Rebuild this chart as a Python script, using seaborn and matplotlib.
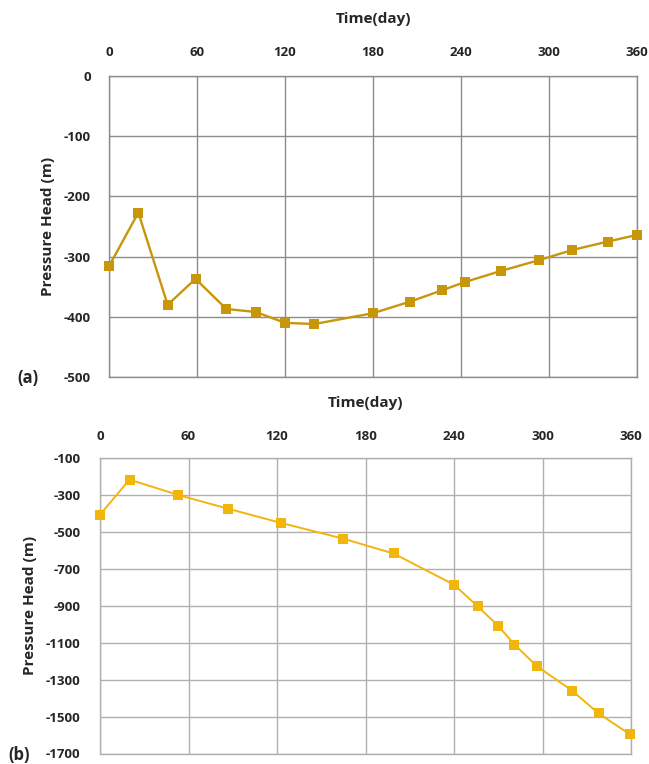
import matplotlib
matplotlib.use("Agg")
import matplotlib.pyplot as plt
import seaborn as sns
import pandas as pd

# Panel (a)
days_a = [0, 20, 40, 59, 80, 100, 120, 140, 180, 205, 227, 243, 267, 293, 316, 340, 360]
head_a = [-316, -227, -380, -337, -387, -392, -410, -412, -394, -375, -356, -342, -324, -306, -289, -275, -264]
# Panel (b)
days_b = [0, 20, 53, 87, 123, 165, 199, 240, 256, 270, 281, 296, 320, 338, 359]
head_b = [-407, -217, -300, -375, -452, -537, -617, -786, -903, -1009, -1110, -1226, -1359, -1483, -1595]

x_ticks = [0, 60, 120, 180, 240, 300, 360]
y_ticks_a = [0, -100, -200, -300, -400, -500]
y_ticks_b = [-100, -300, -500, -700, -900, -1100, -1300, -1500, -1700]

sns.set_style("white")
plt.rcParams['font.family'] = ['Open Sans', 'DejaVu Sans']
plt.rcParams['axes.unicode_minus'] = False

fig = plt.figure(figsize=(6.49, 7.64), dpi=100)
ax_a = fig.add_axes([109/649, 1-377/764, (637-109)/649, (377-76)/764])
ax_b = fig.add_axes([100/649, 1-753.5/764, (631-100)/649, (753.5-458)/764])

df_a = pd.DataFrame({"day": days_a, "head": head_a})
df_b = pd.DataFrame({"day": days_b, "head": head_b})

sns.lineplot(data=df_a, x="day", y="head", ax=ax_a, color="#C8960A", marker="s",
             markersize=6.5, markeredgewidth=0, linewidth=1.7, zorder=3, clip_on=False)
sns.lineplot(data=df_b, x="day", y="head", ax=ax_b, color="#F2B50A", marker="s",
             markersize=6.5, markeredgewidth=0, linewidth=1.4, zorder=3, clip_on=False)

def style(ax, yticks, ylim, gridc, label_pad, xpad, ypad, tpad):
    ax.set_xlim(0, 360)
    ax.set_ylim(*ylim)
    ax.set_xticks(x_ticks)
    ax.set_yticks(yticks)
    ax.xaxis.tick_top()
    ax.xaxis.set_label_position("top")
    ax.set_xlabel("Time(day)", fontsize=11, fontweight="bold", labelpad=tpad)
    ax.set_ylabel("Pressure Head (m)", fontsize=11, fontweight="bold", labelpad=label_pad)
    ax.tick_params(axis="x", length=0, labelsize=9.5, pad=xpad)
    ax.tick_params(axis="y", length=0, labelsize=9.5, pad=ypad)
    for lab in ax.get_xticklabels() + ax.get_yticklabels():
        lab.set_fontweight("bold")
    ax.grid(True, color=gridc, linewidth=1.0)
    for s in ax.spines.values():
        s.set_color(gridc)
        s.set_linewidth(1.0)

style(ax_a, y_ticks_a, (-500, 0), "#8c8c8c", 6, 12, 13, 17)
style(ax_b, y_ticks_b, (-1700, -100), "#b0b0b0", 6, 11, 14, 16)

fig.text(17/649, 1-378/764, "(a)", fontsize=12, fontweight="bold", va="center", ha="left")
fig.text(8/649, 1-755/764, "(b)", fontsize=12, fontweight="bold", va="center", ha="left")

fig.savefig("out.png", dpi=100)
